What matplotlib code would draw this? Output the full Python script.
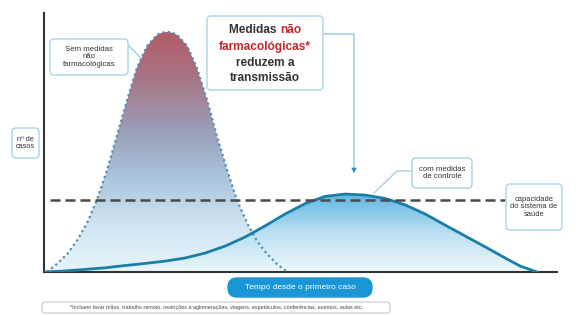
import numpy as np
import matplotlib
matplotlib.use('Agg')
from matplotlib import pyplot as plt
from matplotlib.patches import FancyBboxPatch, Polygon, FancyArrowPatch
from matplotlib.lines import Line2D
from matplotlib.colors import LinearSegmentedColormap
from matplotlib.transforms import IdentityTransform

plt.rcParams['font.family'] = ['Liberation Sans', 'DejaVu Sans']

# curve without measures (dotted)
days_sem = [0.6, 2.5, 4.5, 6.4, 8.4, 10.3, 12.3, 14.2, 16.2, 18.1, 20.1, 22.0, 23.0, 24.0,
            25.0, 26.0, 27.9, 29.8, 31.8, 33.7, 35.7, 37.6, 39.6, 41.5, 43.5, 45.4, 47.4]
casos_sem = [0, 3.1, 6.9, 12.0, 18.9, 27.8, 39.4, 52.5, 66.4, 78.8, 87.3, 91.5, 92.4, 92.7,
             92.4, 91.5, 87.3, 78.8, 66.4, 52.5, 39.4, 27.8, 18.9, 12.0, 6.9, 3.1, 0]

# curve with control measures (solid)
days_com = [0.2, 4.1, 8.0, 11.9, 15.8, 19.7, 23.6, 27.5, 31.4, 35.3, 39.2, 43.1, 47.0,
            50.9, 54.8, 58.7, 62.6, 66.5, 70.4, 74.3, 78.2, 82.1, 86.0, 89.9, 92.8, 96.1]
casos_com = [0, 0.4, 1.0, 1.6, 2.5, 3.3, 4.2, 5.4, 7.3, 10.0, 13.5, 17.8, 22.4,
             26.4, 29.2, 30.1, 29.7, 28.4, 25.9, 22.4, 18.1, 13.9, 9.7, 5.4, 2.3, 0]

capacidade = 27.8
capacidade_range = [1.2, 89.9]

W, H = 578, 315
fig = plt.figure(figsize=(W / 100, H / 100), dpi=100)
ax = fig.add_axes([44 / W, 43 / H, 513 / W, 259 / H])


def gradient_fill(x, y, colors, alpha=1.0, z=1):
    cmap = LinearSegmentedColormap.from_list('g', colors)
    top = max(y)
    grad = np.linspace(0, 1, 256).reshape(-1, 1)
    im = ax.imshow(grad, cmap=cmap, origin='lower', aspect='auto',
                   extent=[min(x), max(x), 0, top], alpha=alpha, zorder=z)
    verts = list(zip(x, y)) + [(x[-1], 0), (x[0], 0)]
    poly = Polygon(verts, closed=True, fc='none', ec='none', transform=ax.transData)
    ax.add_patch(poly)
    im.set_clip_path(poly)


gradient_fill(days_sem, casos_sem,
              ['#e8f4fb', '#cfe4f2', '#a9c3da', '#9b9cb6', '#a87686', '#b35a66'], z=1)
gradient_fill(days_com, casos_com, ['#eef8fd', '#b6def2', '#4fb1df'], alpha=0.92, z=2)

ax.plot(days_sem, casos_sem, color='#4f8fb0', lw=1.6, linestyle=(0, (1, 1.4)), zorder=4)
ax.plot(days_com, casos_com, color='#1b7ea6', lw=2, zorder=4)
ax.plot(capacidade_range, [capacidade, capacidade], color='#4a4a4a', lw=1.8,
        linestyle=(0, (4, 2)), zorder=5)

ax.set_xlim(0, 100)
ax.set_ylim(0, 100)
for s in ['top', 'right']:
    ax.spines[s].set_visible(False)
for s in ['left', 'bottom']:
    ax.spines[s].set_color('#333333')
    ax.spines[s].set_linewidth(1.5)
ax.set_xticks([])
ax.set_yticks([])
ax.patch.set_alpha(0)

T = IdentityTransform()


def box(x0, y0, x1, y1, ec='#a6d6e2', fc='white', r=4, lw=1.0):
    p = FancyBboxPatch((x0, H - y1), x1 - x0, y1 - y0,
                       boxstyle='round,pad=0,rounding_size=%d' % r,
                       transform=T, ec=ec, fc=fc, lw=lw, zorder=10)
    fig.patches.append(p)


def label(x, y, txt, size, color='#333333', weight='normal', ls=1.1):
    return fig.text(x, H - y, txt, transform=T, ha='center', va='center', fontsize=size,
                    color=color, fontweight=weight, linespacing=ls, zorder=11)


def line(xs, ys, color='#9fd0dc', lw=1.0):
    fig.lines.append(Line2D(xs, [H - v for v in ys], transform=T, color=color, lw=lw, zorder=9))


# sem medidas
box(50, 39, 128, 75)
label(89, 57, 'Sem medidas\nnão\nfarmacológicas', 5.6)
line([128, 141], [45, 58])

# nº de casos
box(12, 128, 39, 158)
label(25.5, 143, 'nº de\ncasos', 5.3)

# com medidas
box(412, 158, 472, 188)
label(442, 173, 'com medidas\nde controle', 5.6)
line([374, 397, 412], [193, 171, 171], color='#a9cfd8')

# capacidade
box(506, 184, 562, 230)
label(534, 207, 'capacidade\ndo sistema de\nsaúde', 5.4)

# big callout
box(207, 16, 323, 90, ec='#b5dbe6', lw=1.2)
line([323, 354, 354], [34, 34, 168], color='#a3d5ea', lw=1.2)
arr = FancyArrowPatch((354, H - 160), (354, H - 176), transform=T, arrowstyle='-|>',
                      mutation_scale=10, color='#2f8cc4', lw=0, zorder=9)
fig.patches.append(arr)

dark = '#333333'
red = '#c0282d'
fs = 8.6
renderer = fig.canvas.get_renderer()
t1 = label(265, 30, 'Medidas ', fs, dark, 'bold')
t2 = label(265, 30, 'não', fs, red, 'bold')
w1 = t1.get_window_extent(renderer).width
w2 = t2.get_window_extent(renderer).width
start = 265 - (w1 + w2) / 2
t1.set_ha('left')
t1.set_x(start)
t2.set_ha('left')
t2.set_x(start + w1)
label(265, 47, 'farmacológicas*', fs, red, 'bold')
label(265, 63, 'reduzem a', fs, dark, 'bold')
label(265, 78, 'transmissão', fs, dark, 'bold')

# x label pill
box(228, 278, 372, 297, ec='#1a96d4', fc='#1a96d4', r=9)
label(300, 287.5, 'Tempo desde o primeiro caso', 6, color='white')

# footnote
box(42, 302, 390, 313, ec='#c8c8c8', r=3, lw=0.8)
label(216, 307.5, '*Incluem lavar mãos, trabalho remoto, restrições a aglomerações, viagens, '
      'espetáculos, conferências, eventos, aulas etc.', 3.9, color='#444444')

fig.savefig('out.png', dpi=100)
